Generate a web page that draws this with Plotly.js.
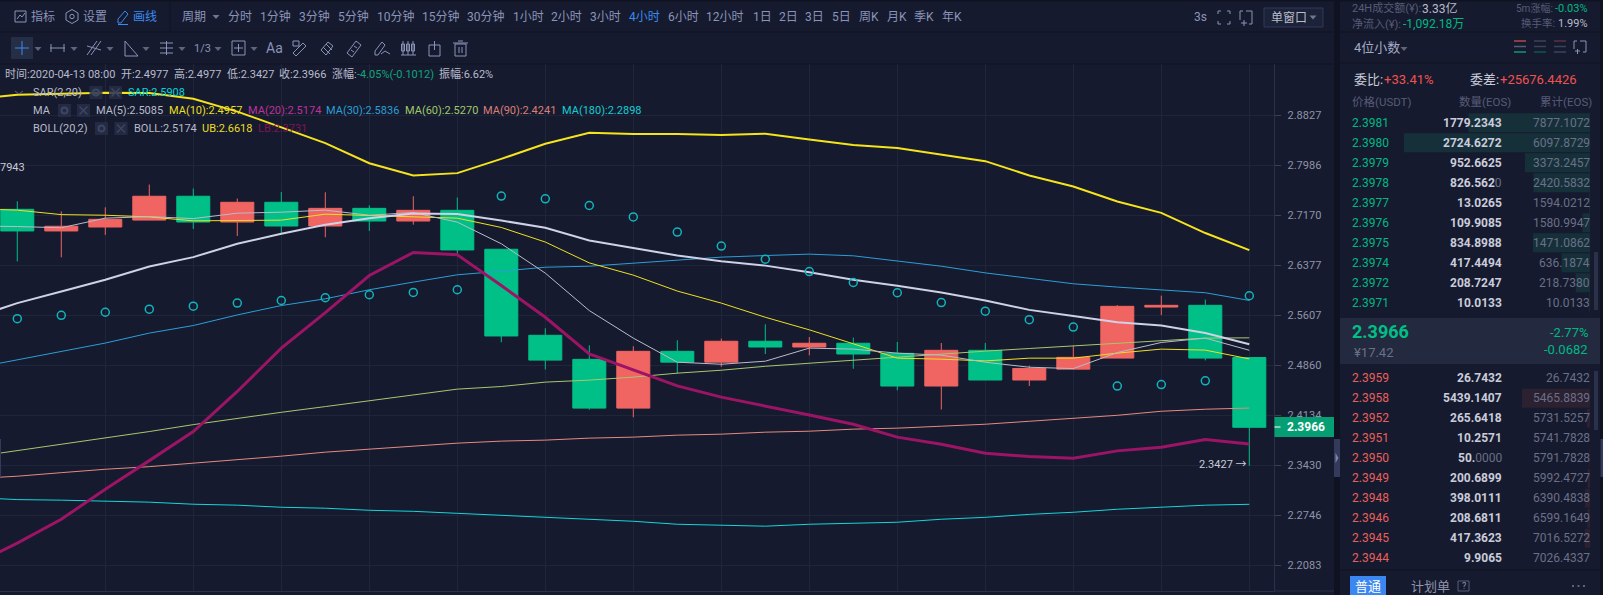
<!DOCTYPE html>
<html><head><meta charset="utf-8">
<script src="https://cdn.plot.ly/plotly-3.0.1.min.js"></script>
<style>html,body{margin:0;padding:0;background:#161a2e;overflow:hidden}#c{width:1603px;height:595px}</style>
</head><body><div id="c"></div>
<script>
// ---------- candle data ----------
const times=["2020-04-08 12:00","2020-04-08 16:00","2020-04-08 20:00","2020-04-09 00:00","2020-04-09 04:00","2020-04-09 08:00","2020-04-09 12:00","2020-04-09 16:00","2020-04-09 20:00","2020-04-10 00:00","2020-04-10 04:00","2020-04-10 08:00","2020-04-10 12:00","2020-04-10 16:00","2020-04-10 20:00","2020-04-11 00:00","2020-04-11 04:00","2020-04-11 08:00","2020-04-11 12:00","2020-04-11 16:00","2020-04-11 20:00","2020-04-12 00:00","2020-04-12 04:00","2020-04-12 08:00","2020-04-12 12:00","2020-04-12 16:00","2020-04-12 20:00","2020-04-13 00:00","2020-04-13 04:00","2020-04-13 08:00"];
const open=[2.7268,2.6921,2.6984,2.7095,2.7480,2.7064,2.7382,2.7000,2.7284,2.7080,2.7252,2.6631,2.5308,2.4950,2.4240,2.5069,2.4909,2.5219,2.5133,2.5189,2.5039,2.4559,2.5084,2.4647,2.4806,2.4969,2.5735,2.5761,2.4977];
const high=[2.7398,2.7235,2.7301,2.7671,2.7606,2.7443,2.7550,2.7545,2.7333,2.7480,2.7459,2.6631,2.5413,2.5159,2.5144,2.5234,2.5259,2.5473,2.5283,2.5274,2.5208,2.5193,2.5193,2.4856,2.5148,2.5766,2.5910,2.5849,2.4977];
const low=[2.6440,2.6504,2.6858,2.7095,2.6953,2.6842,2.6883,2.6821,2.6921,2.7022,2.6563,2.5204,2.4802,2.4217,2.4110,2.4740,2.4841,2.5029,2.5009,2.4812,2.4497,2.4220,2.4647,2.4559,2.4806,2.4969,2.5612,2.4935,2.3427];
const close=[2.6921,2.6996,2.7107,2.7480,2.7064,2.7382,2.7000,2.7284,2.7080,2.7252,2.6620,2.5298,2.4939,2.4240,2.5069,2.4909,2.5219,2.5133,2.5189,2.5029,2.4559,2.5084,2.4647,2.4816,2.4980,2.5746,2.5761,2.4969,2.3966];
// ---------- indicator data (first value belongs to the bar just off the left edge) ----------
const ub=[2.9107,2.9182,2.9199,2.9216,2.9211,2.9112,2.8893,2.8629,2.8359,2.8023,2.7820,2.7859,2.8095,2.8348,2.8533,2.8511,2.8511,2.8494,2.8517,2.8420,2.8326,2.8275,2.8168,2.8057,2.7820,2.7640,2.7395,2.7211,2.6888,2.6618];
const boll=[2.5574,2.5795,2.5974,2.6154,2.6359,2.6507,2.6718,2.6877,2.7019,2.7126,2.7199,2.7194,2.7088,2.6972,2.6770,2.6655,2.6532,2.6444,2.6374,2.6272,2.6154,2.6061,2.5958,2.5835,2.5692,2.5600,2.5505,2.5454,2.5341,2.5174];
const lb=[2.2094,2.2377,2.2696,2.3104,2.3498,2.3906,2.4480,2.5117,2.5650,2.6220,2.6580,2.6544,2.6066,2.5580,2.5032,2.4795,2.4562,2.4398,2.4272,2.4141,2.4010,2.3827,2.3728,2.3602,2.3554,2.3531,2.3634,2.3686,2.3793,2.3731];
const ma5=[2.6999,2.6992,2.6972,2.7126,2.7151,2.7119,2.7206,2.7222,2.7255,2.7173,2.7216,2.7062,2.6718,2.6257,2.5681,2.5266,2.4908,2.4878,2.4923,2.5117,2.5102,2.5042,2.5012,2.4908,2.4834,2.4814,2.5051,2.5201,2.5266,2.5085];
const ma10=[2.7276,2.7255,2.7183,2.7173,2.7146,2.7083,2.7088,2.7094,2.7190,2.7167,2.7151,2.7126,2.6977,2.6745,2.6417,2.6226,2.5980,2.5795,2.5580,2.5390,2.5181,2.4968,2.4953,2.4927,2.4968,2.4968,2.5042,2.5102,2.5087,2.4957];
const ma30=[2.4819,2.4942,2.5066,2.5192,2.5341,2.5455,2.5615,2.5758,2.5861,2.6000,2.6118,2.6231,2.6288,2.6349,2.6365,2.6412,2.6453,2.6507,2.6532,2.6554,2.6528,2.6444,2.6365,2.6261,2.6174,2.6092,2.6041,2.5995,2.5954,2.5836];
const ma60=[2.3549,2.3638,2.3719,2.3813,2.3906,2.4004,2.4095,2.4180,2.4262,2.4349,2.4427,2.4514,2.4552,2.4616,2.4645,2.4689,2.4747,2.4790,2.4848,2.4893,2.4947,2.4991,2.5032,2.5072,2.5111,2.5151,2.5186,2.5226,2.5266,2.5270];
const ma90=[2.3249,2.3282,2.3331,2.3378,2.3414,2.3461,2.3517,2.3560,2.3616,2.3658,2.3700,2.3742,2.3771,2.3785,2.3813,2.3827,2.3855,2.3869,2.3897,2.3911,2.3940,2.3954,2.3982,2.4010,2.4052,2.4095,2.4137,2.4195,2.4224,2.4241];
const ma180=[2.2990,2.2962,2.2954,2.2940,2.2927,2.2899,2.2886,2.2858,2.2845,2.2817,2.2803,2.2776,2.2749,2.2722,2.2696,2.2669,2.2629,2.2616,2.2603,2.2629,2.2643,2.2656,2.2696,2.2722,2.2762,2.2790,2.2831,2.2858,2.2886,2.2898];
const sar=[2.5559,2.5610,2.5656,2.5702,2.5749,2.5795,2.5835,2.5877,2.5923,2.5958,2.6000,2.7483,2.7439,2.7330,2.7146,2.6904,2.6681,2.6475,2.6282,2.6112,2.5954,2.5804,2.5672,2.5544,2.5431,2.4558,2.4581,2.4635,2.5908];
const yTicks=[2.8827,2.7986,2.7170,2.6377,2.5607,2.4860,2.4134,2.3430,2.2746,2.2083];
// ---------- order book data ----------
const upPrice=[2.3981,2.3980,2.3979,2.3978,2.3977,2.3976,2.3975,2.3974,2.3972,2.3971];
const upQty=[1779.2343,2724.6272,952.6625,826.5620,13.0265,109.9085,834.8988,417.4494,208.7247,10.0133];
const upCum=[7877.1072,6097.8729,3373.2457,2420.5832,1594.0212,1580.9947,1471.0862,636.1874,218.7380,10.0133];
const dnPrice=[2.3959,2.3958,2.3952,2.3951,2.3950,2.3949,2.3948,2.3946,2.3945,2.3944];
const dnQty=[26.7432,5439.1407,265.6418,10.2571,50.0000,200.6899,398.0111,208.6811,417.3623,9.9065];
const dnCum=[26.7432,5465.8839,5731.5257,5741.7828,5791.7828,5992.4727,6390.4838,6599.1649,7016.5272,7026.4337];
// ---------- toolbar labels ----------
const periodLabels=['分时','1分钟','3分钟','5分钟','10分钟','15分钟','30分钟','1小时','2小时','3小时','4小时','6小时','12小时','1日','2日','3日','5日','周K','月K','季K','年K'];
const periodLeft=[228,260,299,338,377,422,467,513,551,590,629,668,706,753,779,805,832,859,887,914,942];

// ---------- helpers ----------
const W=1603,H=595,FONT='Roboto,"Noto Sans CJK SC",sans-serif';
const BG='#161a2e',DARK='#0f1220',NAV='#8a94b8',BLUE='#3a8af0',DIM='#565c78',FADE='#6a6f85',LIGHT='#b8bccc',GREEN='#00b884',RED='#e8605c';
const X=p=>p/W,Y=p=>1-p/H;
const ann=[],shp=[];
function T(text,x,y,size,color,anchor){ann.push({xref:'paper',yref:'paper',x:X(x),y:Y(y),text:String(text),showarrow:false,xanchor:anchor||'left',yanchor:'middle',borderpad:0,borderwidth:0,font:{family:FONT,size:size,color:color}});}
function R(x0,y0,x1,y1,fill,layer,stroke){shp.push({type:'rect',xref:'paper',yref:'paper',x0:X(x0),x1:X(x1),y0:Y(y0),y1:Y(y1),fillcolor:fill||'rgba(0,0,0,0)',line:{width:stroke?1:0,color:stroke||'rgba(0,0,0,0)'},layer:layer||'below'});}
function L(x0,y0,x1,y1,color,w,layer){shp.push({type:'line',xref:'paper',yref:'paper',x0:X(x0),x1:X(x1),y0:Y(y0),y1:Y(y1),line:{color:color,width:w||1},layer:layer||'above'});}
function C(cx,cy,r,color,w){shp.push({type:'circle',xref:'paper',yref:'paper',x0:X(cx-r),x1:X(cx+r),y0:Y(cy-r),y1:Y(cy+r),line:{color:color,width:w||1},fillcolor:'rgba(0,0,0,0)',layer:'above'});}
function P(pts,color,fill,w){shp.push({type:'path',xref:'paper',yref:'paper',path:'M'+pts.map(p=>X(p[0])+' '+Y(p[1])).join('L')+(fill?'Z':''),line:{color:color,width:fill?0:(w||1)},fillcolor:fill?color:'rgba(0,0,0,0)',layer:'above'});}
const down=(x,y,c)=>P([[x-3.5,y-2],[x+3.5,y-2],[x,y+2]],c||'#5d6480',true);

// ---------- panel blocks ----------
R(1334,0,1340,595,DARK);R(1600,0,1603,595,DARK);
R(0,0,1334,1.5,DARK);R(1340,0,1600,1.5,DARK);
R(0,31.5,1334,32.5,DARK);R(0,63.5,1334,64.5,DARK);R(169.5,1,170.5,32,DARK);
R(1340,31.5,1600,32.5,DARK);R(1340,62.5,1600,63.5,DARK);
R(1340,318,1600,364,'#232a3f');R(1340,569.5,1600,570.5,DARK);
L(1274,591,1334,591,'#2a3148',1);
R(1334,439,1340,477,'#333a5c','above');P([[1335.5,453],[1338.5,458],[1335.5,463]],'#7d84a8',true);
R(1600.5,439,1603,477,'#333a5c','above');R(0,439,1,477,'#333a5c','above');
R(1594,252,1598,310,'#2a3148');R(1594,371,1598,430,'#2a3148');

// ---------- toolbar 1 ----------
R(15,11,26,22,null,'above',NAV);P([[17,19],[20,15],[22,17],[25,13]],NAV);
T('指标',31,16.5,12,NAV);
P([[72,9.5],[78,13],[78,20],[72,23.5],[66,20],[66,13]],NAV,false,1);P([[66,13],[72,9.5]],NAV);C(72,16.5,2.2,NAV);
T('设置',83,16.5,12,NAV);
P([[118,23],[118,19],[125,11],[128,14],[121,23],[118,23]],BLUE);L(118,24.5,128,24.5,BLUE,1);
T('画线',133,16.5,12,BLUE);
T('周期',182,16.5,12,NAV);down(216,17,'#6e7694');
periodLabels.forEach((s,i)=>T(s,periodLeft[i],16.5,12,s==='4小时'?BLUE:NAV));
T('3s',1194,16.5,12,NAV);
[[1218,11,1],[1230,11,-1],[1218,24,1],[1230,24,-1]].forEach(a=>{const sy=a[1]<16?1:-1;L(a[0],a[1],a[0]+a[2]*3,a[1],NAV);L(a[0],a[1],a[0],a[1]+sy*3,NAV);});
P([[1246,11],[1252,11],[1252,24],[1249,24]],NAV);P([[1240,11],[1243,11]],NAV);P([[1240,11],[1240,20]],NAV);L(1241,23,1247,23,NAV);L(1244,20,1244,26,NAV);
R(1264,8,1323,27,'#1c2238','above','#30395a');
T('单窗口',1271,17.5,12,LIGHT);down(1313,17.5,'#6e7694');

// ---------- toolbar 2 icons ----------
R(11,37,33,59,'#262e45');L(15,48,29,48,BLUE,1);L(22,41,22,55,BLUE,1);
[38,74,110,146,182,218,254].forEach(x=>down(x,49));
L(50,48,65,48,NAV);L(51,44,51,52,NAV);L(64,44,64,52,NAV);
P([[87,55],[97,41]],NAV);P([[91,55],[101,41]],NAV);L(87,46,101,50,NAV);
P([[125,41],[125,56],[138,56],[125,41]],NAV);
L(160,43,173,43,NAV);L(160,48,173,48,NAV);L(160,53,173,53,NAV);L(166.5,41,166.5,55,NAV);
T('1/3',194,48,11,NAV);
R(232,41,245,55,null,'above',NAV);L(234,48,243,48,NAV);L(238.5,44,238.5,52,NAV);
T('Aa',266,48,14,NAV);
R(293,41,299,46,null,'above',NAV);P([[296,56],[306,46],[303,43],[293,53],[296,56]],NAV);
P([[321,50],[328,42],[333,46],[326,55],[321,50]],NAV);L(323,47,330,54,NAV);L(326,44,332,50,NAV);
P([[347,53],[356,41],[361,45],[352,57],[347,53]],NAV);L(351,50,354,52,NAV);L(354,46,357,48,NAV);
P([[375,55],[375,51],[382,42],[385,45],[378,55],[375,55]],NAV);P([[381,54],[385,51],[390,54]],NAV);
[403,408,413].forEach(x=>{R(x-1.5,44,x+1.5,51,null,'above',NAV);L(x,41,x,55,NAV);});L(401,55,416,55,NAV);
R(429,45,440,56,null,'above',NAV);L(434.5,41,434.5,50,NAV);
R(455,44,466,56,null,'above',NAV);L(453,43,468,43,NAV);L(458,41,463,41,NAV);L(459,47,459,53,NAV);L(462,47,462,53,NAV);

// ---------- info rows ----------
const IF=11;
T('时间:2020-04-13 08:00',5,74,IF,LIGHT);
T('开:2.4977',120.7,74,IF,LIGHT);T('高:2.4977',174,74,IF,LIGHT);T('低:2.3427',226.7,74,IF,LIGHT);T('收:2.3966',279,74,IF,LIGHT);
T('涨幅:',332,74,IF,LIGHT);T('-4.05%(-0.1012)',357,74,IF,'#0ea67c');T('振幅:6.62%',439,74,IF,LIGHT);
function toolBox(x0,y){R(x0,y,x0+13,y+13,'rgba(38,46,70,.82)','above');C(x0+6.5,y+6.5,3,'#3c4564',2);}
function xBox(x0,y){R(x0,y,x0+13,y+13,'rgba(38,46,70,.82)','above');L(x0+2.5,y+2.5,x0+10.5,y+10.5,'#3c4564',1.5);L(x0+10.5,y+2.5,x0+2.5,y+10.5,'#3c4564',1.5);}
P([[15,91],[19,94],[23,91]],'#5d6480');
T('SAR(2,20)',33,92.3,IF,LIGHT);toolBox(89.5,86);xBox(109,86);T('SAR:2.5908',128,92.3,IF,'#00d5d8');
T('MA',33,110,IF,LIGHT);toolBox(58,104);xBox(77,104);
T('MA(5):2.5085',96,110,IF,LIGHT);T('MA(10):2.4957',169,110,IF,'#eadf22');T('MA(20):2.5174',247.7,110,IF,'#bd3299');T('MA(30):2.5836',326,110,IF,'#2a9fd6');T('MA(60):2.5270',404.7,110,IF,'#9fc96b');T('MA(90):2.4241',483.3,110,IF,'#d97f78');T('MA(180):2.2898',562.3,110,IF,'#12cdd2');
T('BOLL(20,2)',33,128,IF,LIGHT);toolBox(95,122);xBox(114.5,122);
T('BOLL:2.5174',134,128,IF,LIGHT);T('UB:2.6618',202,128,IF,'#eadf22');T('LB:2.3731',258.3,128,IF,'#7d1458');
T('7943',0,167,11,'#c8cbd8');
T('2.3427 →',1247,464,11,'#c8cbd8','right');

// ---------- last price tag ----------
R(1274.5,417,1334,437,'#059f73','above');L(1274.5,427,1280.5,427,'#ffffff',1);
T('<b>2.3966</b>',1287,427,12,'#ffffff');

// ---------- right panel text ----------
T('24H成交额(¥):',1352,8.5,11,DIM);T('3.33亿',1422,8.5,12,LIGHT);T('5m涨幅:',1553,8.5,10,DIM,'right');T('-0.03%',1588,8.5,11,GREEN,'right');
T('净流入(¥):',1352,24,11,DIM);T('-1,092.18万',1403,24,12,GREEN);T('换手率:',1555,24,10.5,DIM,'right');T('1.99%',1588,24,11,LIGHT,'right');
T('4位小数',1354,47.7,13,'#a4abc6');down(1404,49);
[[1514,'#b04848','#555c72','#0c9a70'],[1534,'#3c4358','#3c4358','#0d5a4a'],[1554,'#5a3340','#3c4358','#3c4358']].forEach(a=>{L(a[0],41,a[0]+12,41,a[1],1.5);L(a[0],46.5,a[0]+12,46.5,a[2],1.5);L(a[0],52,a[0]+12,52,a[3],1.5);});
P([[1580,41],[1586,41],[1586,52],[1583,52]],NAV);P([[1574,41],[1577,41]],NAV);P([[1574,41],[1574,49]],NAV);L(1575,51,1580,51,NAV);L(1577.5,49,1577.5,54,NAV);
T('委比:',1354,79.5,13,'#c8cbd8');T('+33.41%',1384,79.5,13,'#ef5350');
T('委差:',1470,79.5,13,'#c8cbd8');T('+25676.4426',1500,79.5,13,'#ef5350');
T('价格(USDT)',1352,102,11.5,DIM);T('数量(EOS)',1511,102,11.5,DIM,'right');T('累计(EOS)',1592,102,11.5,DIM,'right');
T('<b>2.3966</b>',1352,331,18,'#00c087');T('¥17.42',1354,352,13,FADE);
T('-2.77%',1588,332,13,GREEN,'right');T('-0.0682',1588,349.5,13,GREEN,'right');
R(1350,576,1386,595,'#3b86f0');T('普通',1368,586,13,'#ffffff','center');
T('计划单',1411,586,13,'#8f94ac');R(1458,581,1469,591,null,'above','#565c78');T('?',1463.5,586,9,'#8f94ac','center');
[1573,1578.5,1584].forEach(x=>R(x-1,585,x+1,587,'#5d6480','above'));

// ---------- order book rows ----------
function qtyText(q){const s=q.toFixed(4),k=s.replace(/0+$/,'');const t=k.length<s.length?'<span style="color:#6a6f85">'+s.slice(k.length)+'</span>':'';return '<b>'+k+'</b>'+t;}
function rows(prices,qty,cum,yref,color){prices.forEach((p,i)=>{
  const a={xref:'paper',yref:yref,y:i,showarrow:false,yanchor:'middle',borderpad:0,borderwidth:0};
  ann.push({...a,x:X(1352),xanchor:'left',text:p.toFixed(4),font:{family:FONT,size:12,color:color}});
  ann.push({...a,x:X(1502),xanchor:'right',text:qtyText(qty[i]),font:{family:FONT,size:12,color:'#c9ccda'}});
  ann.push({...a,x:X(1590),xanchor:'right',text:cum[i].toFixed(4),font:{family:FONT,size:12,color:'#6a7088'}});
});}
rows(upPrice,upQty,upCum,'y2','#00b884');
rows(dnPrice,dnQty,dnCum,'y3','#e8605c');

// ---------- traces ----------
const ln=(y,c,w,name)=>({type:'scatter',mode:'lines',x:times,y:y,name:name,line:{color:c,width:w,shape:'linear'},hoverinfo:'skip'});
const data=[
 {type:'candlestick',x:times.slice(1),open:open,high:high,low:low,close:close,name:'K',whiskerwidth:0,
  increasing:{line:{color:'#f06462',width:1},fillcolor:'#f06462'},decreasing:{line:{color:'#00c087',width:1},fillcolor:'#00c087'}},
 ln(ma180,'#12d6da',1,'MA180'),ln(ma90,'#e58a80',1,'MA90'),ln(ma60,'#a8c76e',1,'MA60'),ln(ma30,'#2a9fd6',1,'MA30'),
 ln(ma10,'#efe020',1,'MA10'),ln(ma5,'#b8bccb',1,'MA5'),
 ln(lb,'#9c1466',3,'LB'),ln(ub,'#f5e41c',2,'UB'),ln(boll,'#cfd1e6',2,'BOLL'),
 {type:'scatter',mode:'markers',x:times.slice(1),y:sar,name:'SAR',marker:{symbol:'circle-open',size:8,color:'#10b5bd',line:{width:1.5,color:'#10b5bd'}}},
 {type:'bar',orientation:'h',xaxis:'x2',yaxis:'y2',x:upQty,y:upPrice.map((p,i)=>i),width:0.95,marker:{color:'#16303a',line:{width:0}},name:'buy'},
 {type:'bar',orientation:'h',xaxis:'x3',yaxis:'y3',x:dnQty,y:dnPrice.map((p,i)=>i),width:0.95,marker:{color:'#2c2130',line:{width:0}},name:'sell'}
];
const GRID='#20263a';
const layout={
 width:W,height:H,margin:{l:0,r:0,t:0,b:0},autosize:false,paper_bgcolor:BG,plot_bgcolor:'rgba(0,0,0,0)',showlegend:false,hovermode:false,boxgap:0.25,boxgroupgap:0,
 dragmode:false,font:{family:FONT},
 xaxis:{type:'category',categoryorder:'array',categoryarray:times,domain:[0,1274.3/W],range:[0.607,29.568],rangeslider:{visible:false},
  tickmode:'array',tickvals:times.filter((t,i)=>i>=3&&i%2===1),showticklabels:false,ticks:'',showgrid:true,gridcolor:GRID,gridwidth:1,zeroline:false,showline:true,linecolor:'#2a3148',linewidth:1,anchor:'y'},
 yaxis:{type:'log',domain:[1-591/H,1-64/H],range:[0.33750,0.47303],side:'right',anchor:'x',tickmode:'array',tickvals:yTicks,ticktext:yTicks.map(v=>v.toFixed(4)),
  tickfont:{family:FONT,size:11,color:'#8f94a8'},ticks:'outside',ticklen:6,tickcolor:'#3a4058',tickwidth:1,ticklabelstandoff:4,showgrid:true,gridcolor:GRID,gridwidth:1,zeroline:false,showline:true,linecolor:'#2a3148',linewidth:1},
 xaxis2:{domain:[1340/W,1590/W],range:[3660,0],visible:false,anchor:'y2'},
 yaxis2:{domain:[1-312.7/H,1-112.7/H],range:[9.5,-0.5],visible:false,anchor:'x2'},
 xaxis3:{domain:[1340/W,1590/W],range:[20000,0],visible:false,anchor:'y3'},
 yaxis3:{domain:[1-568.3/H,1-368.3/H],range:[9.5,-0.5],visible:false,anchor:'x3'},
 shapes:shp,annotations:ann
};
Plotly.newPlot('c',data,layout,{staticPlot:true,displayModeBar:false,responsive:false});
</script></body></html>
